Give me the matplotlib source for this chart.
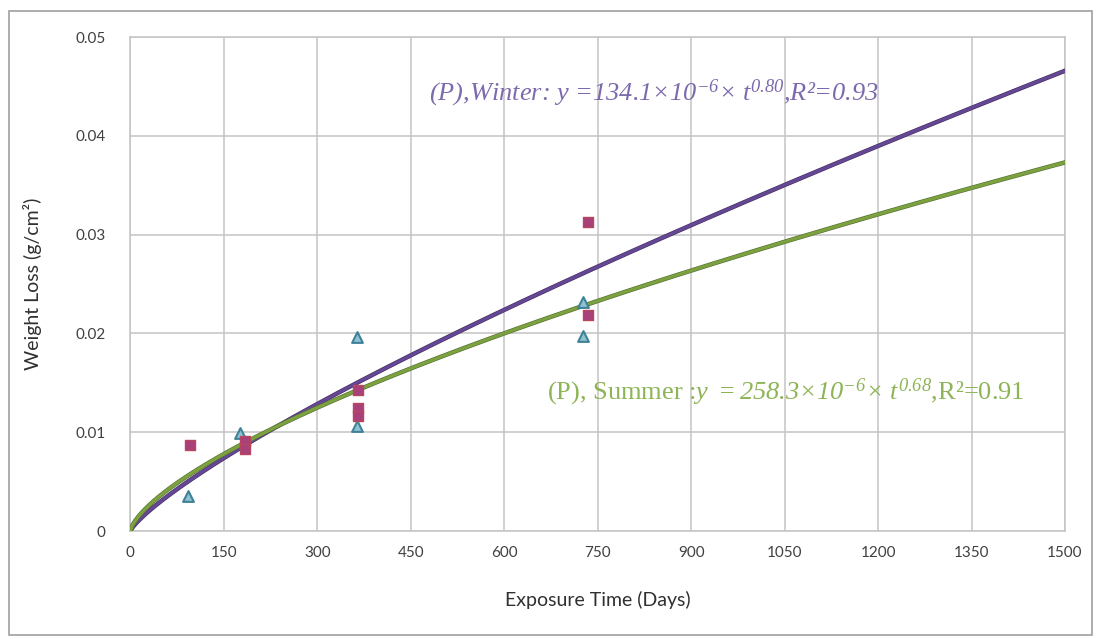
import numpy as np
import matplotlib
matplotlib.use('Agg')
import matplotlib.pyplot as plt
import matplotlib.patheffects as pe
from matplotlib.patches import Rectangle

plt.rcParams['font.family'] = ['Lato', 'DejaVu Sans']
# equation parts are set in italic serif, digits included
plt.rcParams['mathtext.fontset'] = 'custom'
plt.rcParams['mathtext.rm'] = 'Liberation Serif:italic'
plt.rcParams['mathtext.it'] = 'Liberation Serif:italic'

# Measured weight loss (g/cm^2) vs exposure time (days)
summer_days = [93, 176, 364, 364, 727, 727]
summer_loss = [0.00354, 0.0099, 0.0196, 0.0106, 0.0232, 0.0197]
winter_days = [96, 184, 184, 366, 366, 366, 735, 735]
winter_loss = [0.0087, 0.0091, 0.0083, 0.0143, 0.0125, 0.0116, 0.0313, 0.0219]

# Power-law fits y = a * t^b
winter_a, winter_b = 134.1e-6, 0.80
summer_a, summer_b = 258.3e-6, 0.68

x_ticks = list(range(0, 1501, 150))
y_ticks = [0, 0.01, 0.02, 0.03, 0.04, 0.05]
y_tick_labels = ['0', '0.01', '0.02', '0.03', '0.04', '0.05']

fig = plt.figure(figsize=(10.96, 6.39), dpi=100)
ax = fig.add_axes([0.119, 0.169, 0.8527, 0.773])

t = np.linspace(0, 1500, 600)
ax.plot(t, winter_a * t ** winter_b, color='#654796', lw=2.3, zorder=3,
        path_effects=[pe.Stroke(linewidth=3.2, foreground='#42305f'), pe.Normal()])
ax.plot(t, summer_a * t ** summer_b, color='#7ba23f', lw=2.3, zorder=3,
        path_effects=[pe.Stroke(linewidth=3.2, foreground='#586f36'), pe.Normal()])

ax.scatter(summer_days, summer_loss, marker='^', s=60, facecolor='#8fc3d3',
           edgecolor='#3f8297', linewidth=1.5, zorder=4)
ax.scatter(winter_days, winter_loss, marker='s', s=62, facecolor='#a8417a',
           edgecolor='#b8465c', linewidth=1.0, zorder=4)

ax.set_xlim(0, 1500)
ax.set_ylim(0, 0.05)
ax.set_xticks(x_ticks)
ax.set_yticks(y_ticks)
ax.set_yticklabels(y_tick_labels)
ax.tick_params(length=0, labelsize=11, labelcolor='#404040')
ax.tick_params(axis='y', pad=18)
ax.tick_params(axis='x', pad=11)
ax.grid(True, color='#c4c4c4', lw=1.1)
ax.set_axisbelow(True)
for sp in ax.spines.values():
    sp.set_color('#c4c4c4')
    sp.set_linewidth(1.1)

ax.set_xlabel('Exposure Time (Days)', fontsize=14, color='#303030', labelpad=22)
ax.set_ylabel('Weight Loss (g/cm²)', fontsize=14, color='#303030', labelpad=24)

ax.text(841, 0.0443, r'(P),Winter: y =134.1×10$^{-6}$× t$^{0.80}$,R²=0.93',
        fontsize=19, color='#7d6aad', ha='center', va='center',
        family='Liberation Serif', style='italic')
ax.text(1052, 0.0140, r'(P), Summer :$y\ =258.3{\times}10^{-6}{\times}\ t^{0.68}$,R²=0.91',
        fontsize=19, color='#8db456', ha='center', va='center', family='Liberation Serif')

fig.patches.append(Rectangle((0.008, 0.006), 0.988, 0.977, transform=fig.transFigure,
                             fill=False, edgecolor='#a0a0a0', lw=1.2))

fig.savefig('out.png', dpi=100)
